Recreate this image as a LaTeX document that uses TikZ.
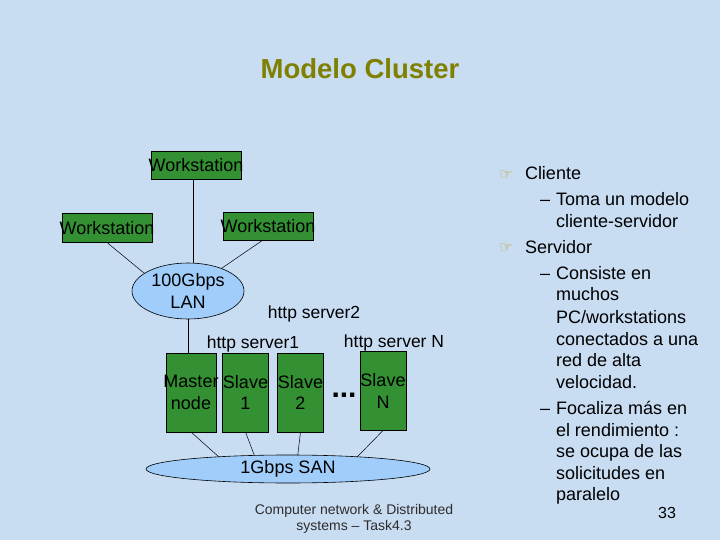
\documentclass[tikz,border=0pt]{standalone}
\usepackage{fontspec}
\setmainfont{Liberation Sans}
\newfontfamily\symfont{DejaVu Sans}
\usetikzlibrary{shapes.geometric,calc}
\definecolor{bgblue}{RGB}{200,220,242}
\definecolor{boxgreen}{RGB}{51,145,51}
\definecolor{lanblue}{RGB}{160,205,250}
\definecolor{titleolive}{RGB}{128,128,0}
\definecolor{handyellow}{RGB}{190,165,30}
\begin{document}
\begin{tikzpicture}[x=1pt,y=-1pt,
  every node/.style={inner sep=0pt,outer sep=0pt},
  txt/.style={font=\fontsize{18}{21.5}\selectfont},
  gbox/.style={draw=black,line width=0.6pt,fill=boxgreen,rectangle},
  net/.style={draw=black,line width=0.6pt,fill=lanblue,ellipse},
  link/.style={draw=black,line width=0.5pt},
  lbl/.style={font=\fontsize{17.5}{21}\selectfont},
  rtxt/.style={anchor=base west,font=\fontsize{18}{21}\selectfont},
  hand/.style={font=\symfont\fontsize{15}{15}\selectfont,text=handyellow},
  dashm/.style={anchor=base west,font=\fontsize{18}{21}\selectfont}]
\fill[bgblue] (0,0) rectangle (720,540);
\useasboundingbox (0,0) rectangle (720,540);

% title
\node[font=\bfseries\fontsize{27.5}{30}\selectfont,text=titleolive] (title) at (360,69) {Modelo Cluster};

% workstations
\node[gbox,minimum width=90,minimum height=28,label={[txt]center:Workstation}] (wst) at (196,165.5) {};
\node[gbox,minimum width=90,minimum height=29,label={[txt]center:Workstation}] (wsl) at (107,228) {};
\node[gbox,minimum width=90,minimum height=28,label={[txt]center:Workstation}] (wsr) at (268,226) {};

% LAN
\node[net,minimum width=112,minimum height=56,txt,align=center] (lan) at (188,291) {100Gbps\\LAN};

\draw[link] ($(wst.south)+(-3,0)$) -- ($(lan.north)+(5,0)$);
\draw[link] (wsl.south) -- (lan.158);
\draw[link] ($(wsr.south)+(-5,0)$) -- (lan.34);

% server labels
\node[lbl] (hs2) at (314,314) {http server2};
\node[lbl] (hs1) at (253,344) {http server1};
\node[lbl] (hsn) at (394,343) {http server N};

% cluster nodes
\node[gbox,minimum width=50,minimum height=79,label={[txt,align=center]center:Master\\node}] (master) at (191,392.5) {};
\node[gbox,minimum width=46,minimum height=79,label={[txt,align=center]center:Slave\\1}] (s1) at (245.5,392.5) {};
\node[gbox,minimum width=46,minimum height=79,label={[txt,align=center]center:Slave\\2}] (s2) at (300.5,392.5) {};
\node[gbox,minimum width=46,minimum height=79,label={[txt,align=center]center:Slave\\N}] (sn) at (383,391) {};
\node[font=\bfseries\fontsize{30}{30}\selectfont] (dots) at (344,395) {...};

\draw[link] (lan.south) -- (lan.south |- master.north);

% SAN
\node[net,minimum width=284,minimum height=28,txt] (san) at (288,469) {1Gbps SAN};
\draw[link] (master.south) -- (san.170);
\draw[link] (s1.south) -- (san.158);
\draw[link] (s2.south) -- (san.55);
\draw[link] (sn.south) -- (san.10);

% footer
\node[font=\fontsize{14}{16}\selectfont,text={rgb,255:red,45;green,45;blue,45},align=center] (foot) at (354,519) {Computer network \& Distributed\\systems -- Task4.3};

% right text
\node[hand] (b1) at (506,175) {☞};
\node[rtxt] (t1) at (525,180) {Cliente};
\node[dashm] (d1) at (540,206) {--};
\node[rtxt] (t2) at (556,206) {Toma un modelo};
\node[rtxt] (t3) at (556,228) {cliente-servidor};
\node[hand] (b2) at (506,248) {☞};
\node[rtxt] (t4) at (525,253) {Servidor};
\node[dashm] (d2) at (540,279) {--};
\node[rtxt] (t5) at (556,279) {Consiste en};
\node[rtxt] (t6) at (556,300) {muchos};
\node[rtxt] (t7) at (556,323) {PC/workstations};
\node[rtxt] (t8) at (556,345) {conectados a una};
\node[rtxt] (t9) at (556,366) {red de alta};
\node[rtxt] (t10) at (556,388) {velocidad.};
\node[dashm] (d3) at (540,414) {--};
\node[rtxt] (t11) at (556,414) {Focaliza más en};
\node[rtxt] (t12) at (556,436) {el rendimiento :};
\node[rtxt] (t13) at (556,457) {se ocupa de las};
\node[rtxt] (t14) at (556,479) {solicitudes en};
\node[rtxt] (t15) at (556,500) {paralelo};
\node[font=\fontsize{16}{16}\selectfont] (pg) at (667,513) {33};
\end{tikzpicture}
\end{document}
